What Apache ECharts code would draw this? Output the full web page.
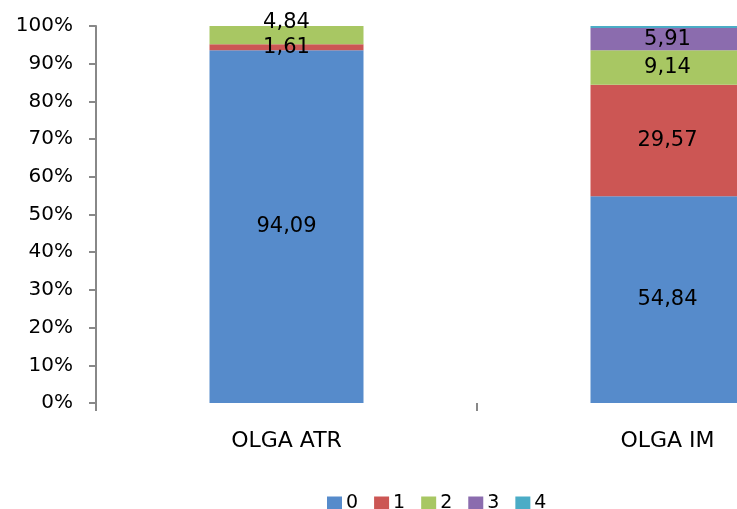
<!DOCTYPE html>
<html>
<head>
<meta charset="utf-8">
<script src="https://cdn.jsdelivr.net/npm/echarts@6/dist/echarts.min.js"></script>
<style>
html,body{margin:0;padding:0;background:#fff;overflow:hidden;width:737px;height:509px;}
#chart{width:880px;height:509px;}
</style>
</head>
<body>
<div id="chart"></div>
<script>
const categories = ['OLGA ATR', 'OLGA IM'];
const seriesNames = ['0', '1', '2', '3', '4'];
const s0 = [94.09, 54.84];
const s1 = [1.61, 29.57];
const s2 = [4.84, 9.14];
const s3 = [0, 5.91];
const s4 = [0, 0.54];
const yTicks = [0, 10, 20, 30, 40, 50, 60, 70, 80, 90, 100];
const colors = ['#568BCB', '#CC5654', '#A8C763', '#8B6CAE', '#4BACC6'];

const raw = [s0, s1, s2, s3, s4];
const totals = categories.map((c, i) => raw.reduce((a, s) => a + s[i], 0));
const FONT = '"DejaVu Sans", Verdana, sans-serif';

const series = raw.map((vals, si) => ({
  name: seriesNames[si],
  type: 'bar',
  stack: 'total',
  barWidth: 154,
  itemStyle: { color: colors[si] },
  label: {
    show: si < 4,
    position: 'inside',
    color: '#000',
    fontFamily: FONT,
    fontSize: 21,
    formatter: p => {
      const v = vals[p.dataIndex];
      return v > 0 ? v.toFixed(2).replace('.', ',') : '';
    }
  },
  data: vals.map((v, ci) => {
    const item = { value: v / totals[ci] * 100 };
    if (si === 2 && ci === 0) item.label = { offset: [0, -13] };
    return item;
  })
}));

const chart = echarts.init(document.getElementById('chart'), null, { renderer: 'canvas' });
chart.setOption({
  animation: false,
  backgroundColor: '#fff',
  grid: { left: 96, top: 26, bottom: 106, right: 22, containLabel: false },
  legend: {
    data: seriesNames,
    left: 327,
    top: 494,
    padding: 0,
    itemWidth: 15,
    itemHeight: 14,
    itemGap: 16,
    icon: 'rect',
    textStyle: { fontFamily: FONT, fontSize: 19, color: '#000', padding: [0, 0, 0, -1] }
  },
  xAxis: {
    type: 'category',
    data: categories,
    axisLine: { show: false },
    axisTick: { show: true, length: 8, lineStyle: { color: '#888', width: 2 } },
    axisLabel: { fontFamily: FONT, fontSize: 22, color: '#000', margin: 27 },
    splitLine: { show: false }
  },
  yAxis: {
    type: 'value',
    min: 0,
    max: 100,
    interval: 10,
    axisLine: { show: true, lineStyle: { color: '#888', width: 2 } },
    axisTick: { show: true, length: 7, lineStyle: { color: '#888', width: 2 } },
    axisLabel: {
      fontFamily: FONT, fontSize: 20, color: '#000', margin: 23,
      formatter: v => yTicks.includes(v) ? v + '%' : ''
    },
    splitLine: { show: false }
  },
  series: series
});
</script>
</body>
</html>
